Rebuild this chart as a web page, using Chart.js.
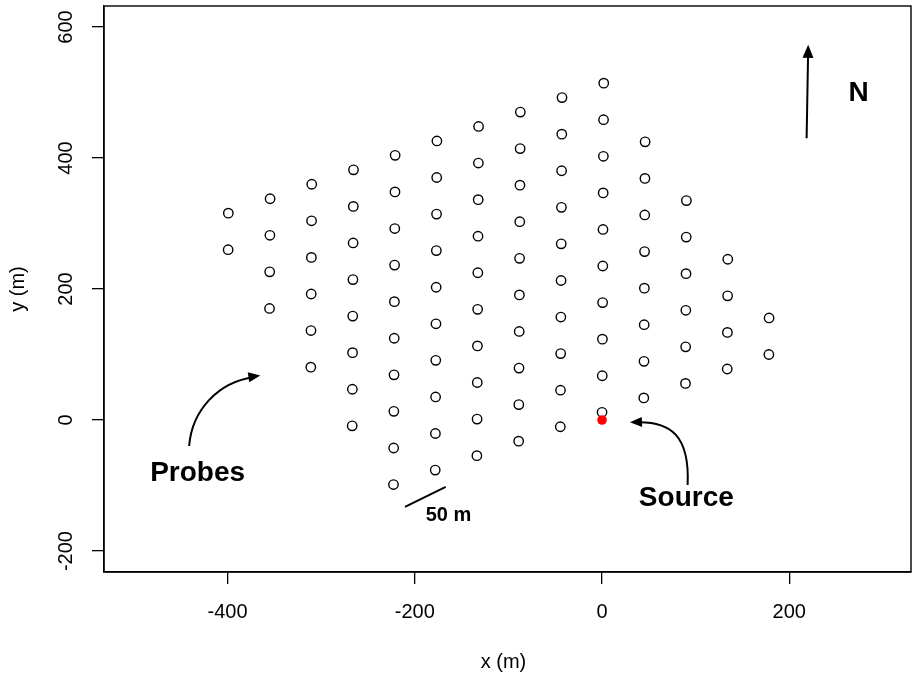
<!DOCTYPE html>
<html>
<head>
<meta charset="utf-8">
<script src="https://cdn.jsdelivr.net/npm/chart.js@4/dist/chart.umd.min.js"></script>
<style>
html,body{margin:0;padding:0;background:#fff;}
#wrap{width:912px;height:676px;}
</style>
</head>
<body>
<div id="wrap"><canvas id="c" width="912" height="676"></canvas></div>
<script>
// ---- data ----
const probeX = [
  -399.4, -399.2,
  -355.2, -355.0, -354.8, -354.6,
  -311.1, -310.9, -310.7, -310.5, -310.3, -310.1,
  -266.9, -266.7, -266.5, -266.3, -266.1, -265.9, -265.7, -265.5,
  -222.8, -222.6, -222.4, -222.2, -222.0, -221.8, -221.6, -221.4, -221.2, -221.0,
  -178.2, -178.0, -177.8, -177.6, -177.4, -177.2, -177.0, -176.8, -176.6, -176.4,
  -133.7, -133.5, -133.3, -133.1, -132.9, -132.7, -132.5, -132.3, -132.1, -131.9,
  -89.1, -88.9, -88.7, -88.5, -88.3, -88.1, -87.9, -87.7, -87.5, -87.3,
  -44.6, -44.4, -44.2, -44.0, -43.8, -43.6, -43.4, -43.2, -43.0, -42.8,
  0.0, 0.2, 0.4, 0.6, 0.8, 1.0, 1.2, 1.4, 1.6, 1.8,
  44.6, 44.8, 45.0, 45.2, 45.4, 45.6, 45.8, 46.0,
  89.1, 89.3, 89.5, 89.7, 89.9, 90.1,
  133.7, 133.9, 134.1, 134.3,
  178.2, 178.4
];
const probeY = [
  260.0, 315.8,
  170.3, 226.2, 282.0, 337.8,
  80.7, 136.6, 192.4, 248.2, 304.1, 359.9,
  -8.9, 47.0, 102.8, 158.6, 214.4, 270.3, 326.1, 381.9,
  -98.5, -42.7, 13.2, 69.0, 124.8, 180.7, 236.5, 292.3, 348.2, 404.0,
  -76.4, -20.6, 35.2, 91.1, 146.9, 202.7, 258.6, 314.4, 370.2, 426.0,
  -54.4, 1.4, 57.3, 113.1, 168.9, 224.8, 280.6, 336.4, 392.3, 448.1,
  -32.3, 23.5, 79.3, 135.2, 191.0, 246.8, 302.7, 358.5, 414.3, 470.1,
  -10.3, 45.5, 101.4, 157.2, 213.0, 268.9, 324.7, 380.5, 436.4, 492.2,
  11.8, 67.6, 123.4, 179.3, 235.1, 290.9, 346.7, 402.6, 458.4, 514.2,
  33.8, 89.6, 145.5, 201.3, 257.1, 313.0, 368.8, 424.6,
  55.9, 111.7, 167.5, 223.4, 279.2, 335.0,
  77.9, 133.7, 189.6, 245.4,
  100.0, 155.8
];
const sourceX = [0];
const sourceY = [0];
const xTicks = [-400, -200, 0, 200];
const yTicks = [-200, 0, 200, 400, 600];
const xTitle = "x (m)";
const yTitle = "y (m)";
const labelProbes = "Probes";
const labelSource = "Source";
const labelNorth = "N";
const labelScale = "50 m";

// ---- layout / annotation placement (data coordinates) ----
const FONT = '"Liberation Sans", Arial, Helvetica, sans-serif';
const annot = {
  probesText: [-432, -81],
  probesArrow: [[-441.1, -39.7], [-437.9, 15.3], [-410.1, 58.0], [-365.0, 68.0]],
  sourceText: [90, -120],
  sourceArrow: [[91.4, -99.3], [93.9, -22.9], [72.5, -1.5], [29.8, -3.5]],
  northText: [274, 499],
  northArrow: [[218.5, 430.2], [220.2, 572.7]],
  scaleBar: [[-210.5, -132.5], [-167, -102]],
  scaleText: [-164, -146]
};

const pts = probeX.map((x, i) => ({x: x, y: probeY[i]}));
const src = sourceX.map((x, i) => ({x: x, y: sourceY[i]}));

function arrowHead(ctx, tipX, tipY, fromX, fromY, len, half) {
  const a = Math.atan2(tipY - fromY, tipX - fromX);
  ctx.beginPath();
  ctx.moveTo(tipX, tipY);
  ctx.lineTo(tipX - len * Math.cos(a) + half * Math.sin(a), tipY - len * Math.sin(a) - half * Math.cos(a));
  ctx.lineTo(tipX - len * Math.cos(a) - half * Math.sin(a), tipY - len * Math.sin(a) + half * Math.cos(a));
  ctx.closePath();
  ctx.fill();
}

const deco = {
  id: 'deco',
  afterDraw(chart) {
    const ctx = chart.ctx;
    const xs = chart.scales.x, ys = chart.scales.y;
    const P = (p) => [xs.getPixelForValue(p[0]), ys.getPixelForValue(p[1])];
    const ca = chart.chartArea;
    ctx.save();
    // box
    ctx.strokeStyle = '#000';
    ctx.lineWidth = 1.4;
    ctx.strokeRect(ca.left, ca.top, ca.right - ca.left, ca.bottom - ca.top);

    // tick labels
    ctx.fillStyle = '#000';
    ctx.font = '20px ' + FONT;
    ctx.textAlign = 'center';
    ctx.textBaseline = 'alphabetic';
    xTicks.forEach(v => {
      ctx.fillText(String(v), xs.getPixelForValue(v), 618);
    });
    yTicks.forEach(v => {
      ctx.save();
      ctx.translate(72, ys.getPixelForValue(v));
      ctx.rotate(-Math.PI / 2);
      ctx.fillText(String(v), 0, 0);
      ctx.restore();
    });
    // axis titles
    ctx.textBaseline = 'middle';
    ctx.fillText(xTitle, (ca.left + ca.right) / 2 - 4, 662);
    ctx.save();
    ctx.translate(18, (ca.top + ca.bottom) / 2);
    ctx.rotate(-Math.PI / 2);
    ctx.fillText(yTitle, 0, 0);
    ctx.restore();

    // annotations
    ctx.lineWidth = 2;
    ctx.lineCap = 'butt';
    // probes arrow
    let a = annot.probesArrow.map(P);
    ctx.beginPath();
    ctx.moveTo(a[0][0], a[0][1]);
    ctx.bezierCurveTo(a[1][0], a[1][1], a[2][0], a[2][1], a[3][0] - 6, a[3][1] + 1.5);
    ctx.stroke();
    arrowHead(ctx, a[3][0], a[3][1], a[2][0], a[2][1], 12, 5);
    // source arrow
    a = annot.sourceArrow.map(P);
    ctx.beginPath();
    ctx.moveTo(a[0][0], a[0][1]);
    ctx.bezierCurveTo(a[1][0], a[1][1], a[2][0], a[2][1], a[3][0] + 6, a[3][1]);
    ctx.stroke();
    arrowHead(ctx, a[3][0], a[3][1], a[2][0], a[2][1], 12, 5);
    // north arrow
    a = annot.northArrow.map(P);
    ctx.beginPath();
    ctx.moveTo(a[0][0], a[0][1]);
    ctx.lineTo(a[1][0] - 0.1, a[1][1] + 8);
    ctx.stroke();
    arrowHead(ctx, a[1][0], a[1][1], a[0][0], a[0][1], 13, 5.5);
    // scale bar
    a = annot.scaleBar.map(P);
    ctx.beginPath();
    ctx.moveTo(a[0][0], a[0][1]);
    ctx.lineTo(a[1][0], a[1][1]);
    ctx.stroke();

    // annotation text
    ctx.textAlign = 'center';
    ctx.textBaseline = 'middle';
    ctx.font = 'bold 28px ' + FONT;
    let t = P(annot.probesText);
    ctx.fillText(labelProbes, t[0], t[1]);
    t = P(annot.sourceText);
    ctx.fillText(labelSource, t[0], t[1]);
    t = P(annot.northText);
    ctx.fillText(labelNorth, t[0], t[1]);
    ctx.font = 'bold 20px ' + FONT;
    t = P(annot.scaleText);
    ctx.fillText(labelScale, t[0], t[1]);
    ctx.restore();
  }
};

new Chart(document.getElementById('c'), {
  type: 'scatter',
  data: {
    datasets: [
      {
        label: 'Source',
        data: src,
        pointRadius: 4.8,
        pointBorderWidth: 0,
        pointBackgroundColor: '#ff0000',
        pointBorderColor: '#ff0000',
        order: 0
      },
      {
        label: 'Probes',
        data: pts,
        pointRadius: 4.7,
        pointBorderWidth: 1.4,
        pointBorderColor: '#000',
        pointBackgroundColor: 'rgba(0,0,0,0)',
        order: 1
      }
    ]
  },
  options: {
    responsive: false,
    devicePixelRatio: 1,
    animation: false,
    events: [],
    layout: {autoPadding: false, padding: {top: 6, right: 1, left: 0, bottom: 0}},
    plugins: {legend: {display: false}, tooltip: {enabled: false}},
    scales: {
      x: {
        type: 'linear',
        min: -532, max: 330,
        afterBuildTicks: s => { s.ticks = xTicks.map(v => ({value: v})); },
        afterFit: s => { s.height = 104; },
        ticks: {display: false},
        grid: {drawOnChartArea: false, drawTicks: true, tickLength: 12, color: '#000', lineWidth: 1.3},
        border: {display: true, color: '#000', width: 1.4}
      },
      y: {
        type: 'linear',
        min: -232, max: 632,
        afterBuildTicks: s => { s.ticks = yTicks.map(v => ({value: v})); },
        afterFit: s => { s.width = 104; },
        ticks: {display: false},
        grid: {drawOnChartArea: false, drawTicks: true, tickLength: 12, color: '#000', lineWidth: 1.3},
        border: {display: true, color: '#000', width: 1.4}
      }
    }
  },
  plugins: [deco]
});
</script>
</body>
</html>
